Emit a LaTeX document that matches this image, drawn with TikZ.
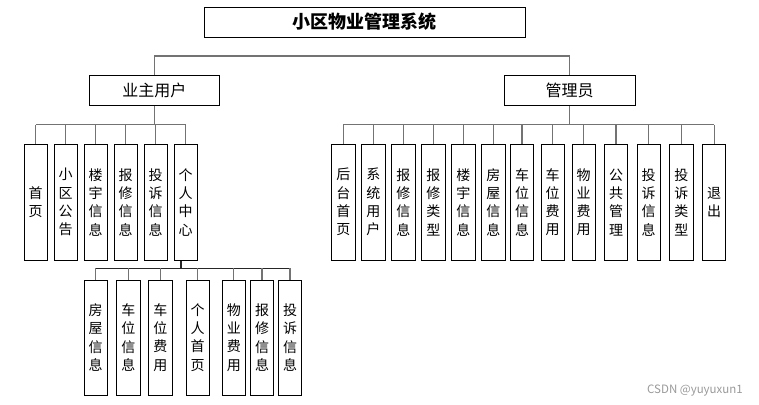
\documentclass[tikz,border=0pt]{standalone}
\usepackage{fontspec}
\newfontfamily\cjk{Noto Sans CJK SC}
\tikzset{
  box/.style={draw=black, line width=0.9pt, fill=white, inner sep=0pt},
  title/.style={box, minimum width=321.7pt, minimum height=30pt, font=\cjk\bfseries\fontsize{18}{20}\selectfont},
  head/.style={box, minimum width=130.7pt, minimum height=30.7pt, font=\cjk\fontsize{16}{18}\selectfont},
  leaf/.style={box, minimum width=23.3pt, minimum height=115.7pt, align=center, font=\cjk\fontsize{14}{18.3}\selectfont},
  wire/.style={draw=black!55, line width=1.1pt},
  bus/.style={draw=black!85, line width=1.3pt},
}
\begin{document}
\begin{tikzpicture}[x=1pt,y=-1pt]
\useasboundingbox (0,0) rectangle (759,404);
% bus heights
\coordinate (busT) at (0,56);
\coordinate (busL) at (0,124.7);
\coordinate (busS) at (181,268.3);
% top levels
\node[title] (sys) at (364.8,22) {小区物业管理系统};
\node[head] (owner) at (154.3,90.3) {业主用户};
\node[head] (admin) at (569.7,90.3) {管理员};
\draw[wire] (owner.north) -- (owner.north |- busT) -- (admin.north |- busT) -- (admin.north);
% owner side
\foreach \x/\n/\t in {35.7/l1/{首\\页}, 65.7/l2/{小\\区\\公\\告}, 95.7/l3/{楼\\宇\\信\\息},
    125.7/l4/{报\\修\\信\\息}, 155.7/l5/{投\\诉\\信\\息}, 185.7/pc/{个\\人\\中\\心}}
  \node[leaf] (\n) at (\x,202.2) {\t};
\draw[wire] (owner.south) -- (owner.south |- busL);
\draw[wire] (l1.north |- busL) -- (pc.north |- busL);
\foreach \n in {l1,l2,l3,l4,l5,pc}
  \draw[wire] (\n.north) -- (\n.north |- busL);
% admin side
\foreach \x/\n/\t in {343.3/r1/{后\\台\\首\\页}, 373.3/r2/{系\\统\\用\\户}, 403.3/r3/{报\\修\\信\\息},
    433.3/r4/{报\\修\\类\\型}, 463.3/r5/{楼\\宇\\信\\息}, 493.3/r6/{房\\屋\\信\\息},
    522/r7/{车\\位\\信\\息}, 552.7/r8/{车\\位\\费\\用}, 583.7/r9/{物\\业\\费\\用},
    616/r10/{公\\共\\管\\理}, 648.7/r11/{投\\诉\\信\\息}, 681.3/r12/{投\\诉\\类\\型},
    714.2/r13/{退\\出}}
  \node[leaf] (\n) at (\x,202.2) {\t};
\draw[wire] (admin.south) -- (admin.south |- busL);
\draw[wire] (r1.north |- busL) -- (r13.north |- busL);
\foreach \n in {r1,r2,r3,r4,r5,r6,r7,r8,r9,r10,r11,r12,r13}
  \draw[wire] (\n.north) -- (\n.north |- busL);
% personal centre
\foreach \x/\n/\t in {95.7/s1/{房\\屋\\信\\息}, 128.3/s2/{车\\位\\信\\息}, 160.3/s3/{车\\位\\费\\用},
    197.7/s4/{个\\人\\首\\页}, 233.8/s5/{物\\业\\费\\用}, 262/s6/{报\\修\\信\\息},
    290/s7/{投\\诉\\信\\息}}
  \node[leaf, minimum height=115pt] (\n) at (\x,337.5) {\t};
\draw[bus] (busS |- pc.south) -- (busS);
\draw[bus] (s1.north |- busS) -- (s7.north |- busS);
\foreach \n in {s1,s2,s3,s4,s5,s6,s7}
  \draw[wire] (\n.north) -- (\n.north |- busS);
% watermark
\node[font=\cjk\fontsize{11.5}{13}\selectfont, text=black!40] (mark) at (695,391) {CSDN @yuyuxun1};
\end{tikzpicture}
\end{document}
